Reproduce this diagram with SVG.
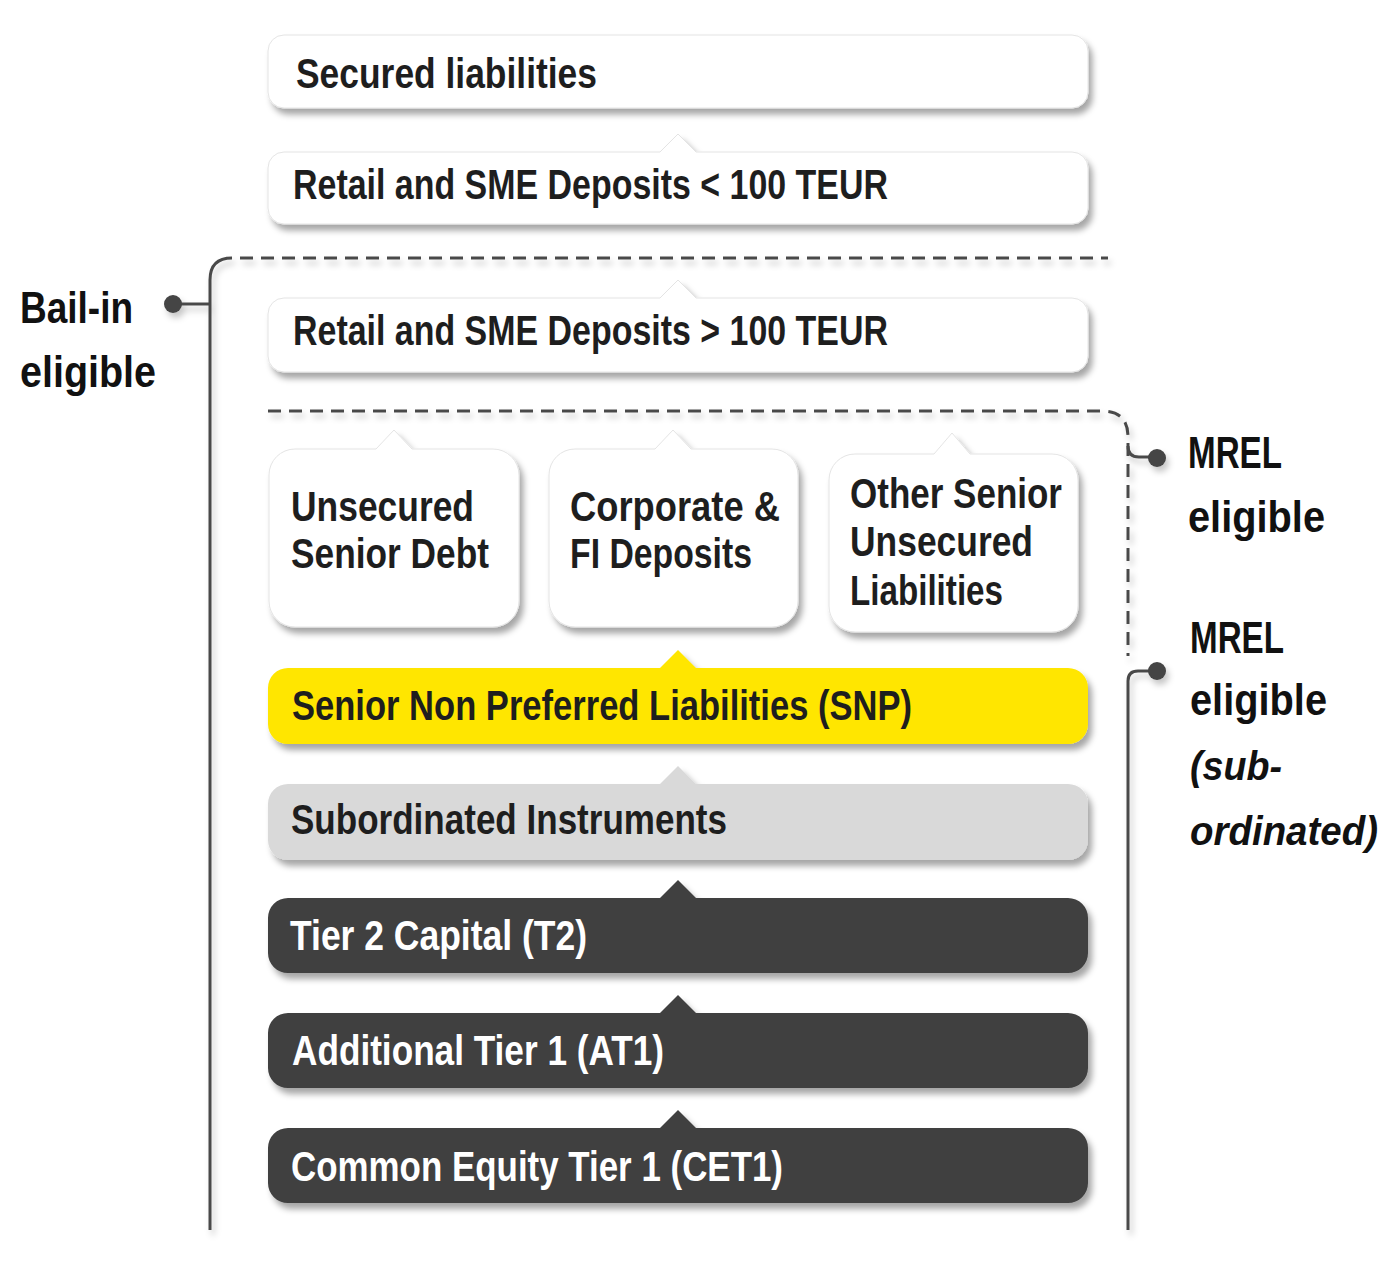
<svg xmlns="http://www.w3.org/2000/svg" width="1400" height="1263" viewBox="0 0 1400 1263">
  <defs>
    <filter id="sh" x="-10%" y="-30%" width="130%" height="170%">
      <feDropShadow dx="4" dy="6" stdDeviation="3" flood-color="#000" flood-opacity="0.35"/>
    </filter>
    <filter id="lsh" x="-10%" y="-50%" width="130%" height="250%">
      <feDropShadow dx="3" dy="5" stdDeviation="3" flood-color="#000" flood-opacity="0.22"/>
    </filter>
  </defs>
  <style>
    .white { fill: #ffffff; stroke: #e4e4e4; stroke-width: 1; }
    .yellow { fill: #ffe600; }
    .grey { fill: #d9d9d9; }
    .dark { fill: #404040; }
    .t { font-family: "Liberation Sans", Arial, sans-serif; font-weight: bold; font-size: 42px; fill: #1e1e1e; }
    .tw { fill: #ffffff; }
    .lab { font-family: "Liberation Sans", Arial, sans-serif; font-weight: bold; font-size: 44px; fill: #111111; }
    .it { font-style: italic; font-size: 41px; }
    .solid { fill: none; stroke: #4a4a4a; stroke-width: 3; }
    .dash { fill: none; stroke: #4a4a4a; stroke-width: 3; stroke-dasharray: 13 8; }
    .dot { fill: #444444; }
  </style>

  <g id="connectors" filter="url(#lsh)">
    <path class="solid" d="M210,1230 V280 Q210,258 232,258"/>
    <path class="dash" d="M240,258 H1108"/>
    <path class="solid" d="M173,304 H210"/>
    <circle class="dot" cx="173" cy="304" r="9"/>
    <path class="dash" d="M268,411 H1102 Q1128,411 1128,437 V656"/>
    <path class="solid" d="M1128,446 Q1128,457 1139,457 H1157"/>
    <circle class="dot" cx="1157" cy="458" r="9"/>
    <path class="solid" d="M1128,1230 V681 Q1128,671 1138,671 H1157"/>
    <circle class="dot" cx="1157" cy="671" r="9"/>
  </g>

  <g id="secured">
    <path class="white" filter="url(#sh)" d="M284,35 H1072 A16,16 0 0 1 1088,51 V92 A16,16 0 0 1 1072,108 H284 A16,16 0 0 1 268,92 V51 A16,16 0 0 1 284,35 Z"/>
    <text class="t" x="296" y="88" textLength="301" lengthAdjust="spacingAndGlyphs">Secured liabilities</text>
  </g>

  <g id="retail-small">
    <path class="white" filter="url(#sh)" d="M284,152 H660 L678,134 L696,152 H1072 A16,16 0 0 1 1088,168 V208 A16,16 0 0 1 1072,224 H284 A16,16 0 0 1 268,208 V168 A16,16 0 0 1 284,152 Z"/>
    <text class="t" x="293" y="199" textLength="595" lengthAdjust="spacingAndGlyphs">Retail and SME Deposits &lt; 100 TEUR</text>
  </g>

  <g id="retail-large">
    <path class="white" filter="url(#sh)" d="M284,298 H660 L678,280 L696,298 H1072 A16,16 0 0 1 1088,314 V356 A16,16 0 0 1 1072,372 H284 A16,16 0 0 1 268,356 V314 A16,16 0 0 1 284,298 Z"/>
    <text class="t" x="293" y="345" textLength="595" lengthAdjust="spacingAndGlyphs">Retail and SME Deposits &gt; 100 TEUR</text>
  </g>

  <g id="unsecured-senior-debt">
    <path class="white" filter="url(#sh)" d="M295,449 H376 L394,430 L412,449 H493 A26,26 0 0 1 519,475 V601 A26,26 0 0 1 493,627 H295 A26,26 0 0 1 269,601 V475 A26,26 0 0 1 295,449 Z"/>
    <text class="t" x="291" y="521" textLength="183" lengthAdjust="spacingAndGlyphs">Unsecured</text>
    <text class="t" x="291" y="568" textLength="198" lengthAdjust="spacingAndGlyphs">Senior Debt</text>
  </g>

  <g id="corporate-fi-deposits">
    <path class="white" filter="url(#sh)" d="M575,449 H655 L673,430 L691,449 H772 A26,26 0 0 1 798,475 V601 A26,26 0 0 1 772,627 H575 A26,26 0 0 1 549,601 V475 A26,26 0 0 1 575,449 Z"/>
    <text class="t" x="570" y="521" textLength="210" lengthAdjust="spacingAndGlyphs">Corporate &amp;</text>
    <text class="t" x="570" y="568" textLength="182" lengthAdjust="spacingAndGlyphs">FI Deposits</text>
  </g>

  <g id="other-senior-unsecured">
    <path class="white" filter="url(#sh)" d="M855,454 H934 L952,433 L970,454 H1052 A26,26 0 0 1 1078,480 V606 A26,26 0 0 1 1052,632 H855 A26,26 0 0 1 829,606 V480 A26,26 0 0 1 855,454 Z"/>
    <text class="t" x="850" y="508" textLength="212" lengthAdjust="spacingAndGlyphs">Other Senior</text>
    <text class="t" x="850" y="556" textLength="183" lengthAdjust="spacingAndGlyphs">Unsecured</text>
    <text class="t" x="850" y="605" textLength="153" lengthAdjust="spacingAndGlyphs">Liabilities</text>
  </g>

  <g id="snp">
    <path class="yellow" filter="url(#sh)" d="M288,668 H660 L678,650 L696,668 H1068 A20,20 0 0 1 1088,688 V724 A20,20 0 0 1 1068,744 H288 A20,20 0 0 1 268,724 V688 A20,20 0 0 1 288,668 Z"/>
    <text class="t" x="292" y="720" textLength="620" lengthAdjust="spacingAndGlyphs">Senior Non Preferred Liabilities (SNP)</text>
  </g>

  <g id="subordinated">
    <path class="grey" filter="url(#sh)" d="M288,784 H660 L678,766 L696,784 H1068 A20,20 0 0 1 1088,804 V840 A20,20 0 0 1 1068,860 H288 A20,20 0 0 1 268,840 V804 A20,20 0 0 1 288,784 Z"/>
    <text class="t" x="291" y="834" textLength="436" lengthAdjust="spacingAndGlyphs">Subordinated Instruments</text>
  </g>

  <g id="tier2">
    <path class="dark" filter="url(#sh)" d="M288,898 H660 L678,880 L696,898 H1068 A20,20 0 0 1 1088,918 V953 A20,20 0 0 1 1068,973 H288 A20,20 0 0 1 268,953 V918 A20,20 0 0 1 288,898 Z"/>
    <text class="t tw" x="290" y="950" textLength="297" lengthAdjust="spacingAndGlyphs">Tier 2 Capital (T2)</text>
  </g>

  <g id="at1">
    <path class="dark" filter="url(#sh)" d="M288,1013 H660 L678,995 L696,1013 H1068 A20,20 0 0 1 1088,1033 V1068 A20,20 0 0 1 1068,1088 H288 A20,20 0 0 1 268,1068 V1033 A20,20 0 0 1 288,1013 Z"/>
    <text class="t tw" x="292" y="1065" textLength="372" lengthAdjust="spacingAndGlyphs">Additional Tier 1 (AT1)</text>
  </g>

  <g id="cet1">
    <path class="dark" filter="url(#sh)" d="M288,1128 H660 L678,1110 L696,1128 H1068 A20,20 0 0 1 1088,1148 V1183 A20,20 0 0 1 1068,1203 H288 A20,20 0 0 1 268,1183 V1148 A20,20 0 0 1 288,1128 Z"/>
    <text class="t tw" x="291" y="1181" textLength="492" lengthAdjust="spacingAndGlyphs">Common Equity Tier 1 (CET1)</text>
  </g>

  <g id="label-bail-in">
    <text class="lab" x="20" y="323" textLength="113" lengthAdjust="spacingAndGlyphs">Bail-in</text>
    <text class="lab" x="20" y="387" textLength="136" lengthAdjust="spacingAndGlyphs">eligible</text>
  </g>

  <g id="label-mrel">
    <text class="lab" x="1188" y="468" textLength="94" lengthAdjust="spacingAndGlyphs">MREL</text>
    <text class="lab" x="1188" y="532" textLength="137" lengthAdjust="spacingAndGlyphs">eligible</text>
  </g>

  <g id="label-mrel-sub">
    <text class="lab" x="1190" y="653" textLength="94" lengthAdjust="spacingAndGlyphs">MREL</text>
    <text class="lab" x="1190" y="715" textLength="137" lengthAdjust="spacingAndGlyphs">eligible</text>
    <text class="lab it" x="1190" y="780" textLength="92" lengthAdjust="spacingAndGlyphs">(sub-</text>
    <text class="lab it" x="1190" y="845" textLength="188" lengthAdjust="spacingAndGlyphs">ordinated)</text>
  </g>
</svg>
